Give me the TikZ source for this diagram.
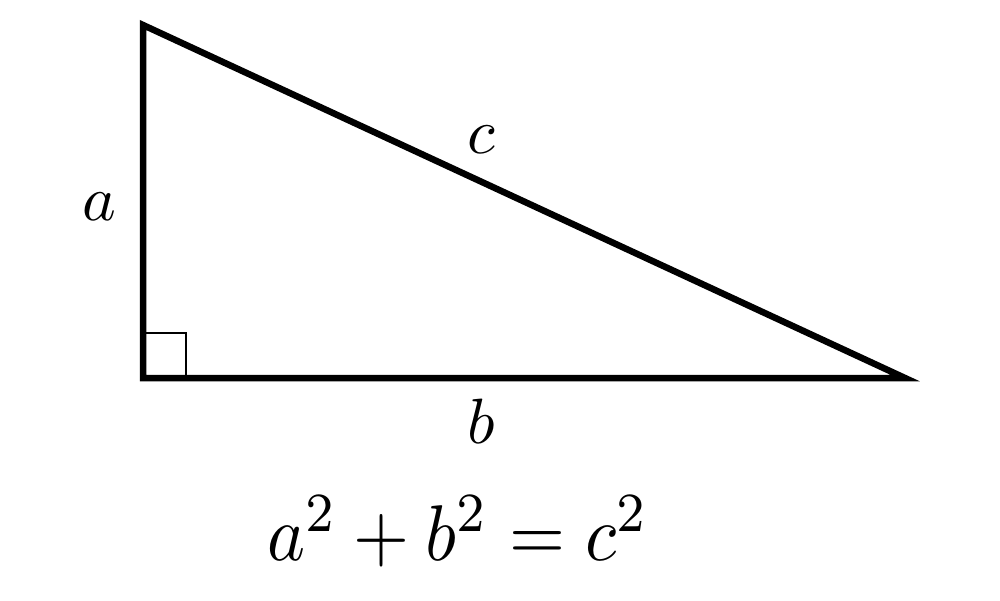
\documentclass[tikz,border=0pt]{standalone}
\usepackage{amsmath}
\begin{document}
\begin{tikzpicture}[x=1pt,y=-1pt,
  side/.style={line width=6.5pt,line join=miter,miter limit=10},
  lbl/.style={inner sep=0pt,scale=6.4,transform shape},
  eq/.style={inner sep=0pt,xscale=7.2,yscale=7.9,transform shape}]
\useasboundingbox[fill=white] (0,0) rectangle (1000,600);
\coordinate (A) at (143,25);
\coordinate (C) at (143,378);
\coordinate (B) at (905,378);
\draw[side] (A) -- (C) -- (B) -- cycle;
\draw[line width=2pt] (146,333) -- (186,333) -- (186,375);
\node[lbl,anchor=base] (la) at (99,220) {$a$};
\node[lbl,anchor=base] (lc) at (481,153) {$c$};
\node[lbl,anchor=base] (lb) at (481,443) {$b$};
\node[eq,anchor=base] (eqn) at (458,560) {$a^2+b^2=c^2$};
\end{tikzpicture}
\end{document}
